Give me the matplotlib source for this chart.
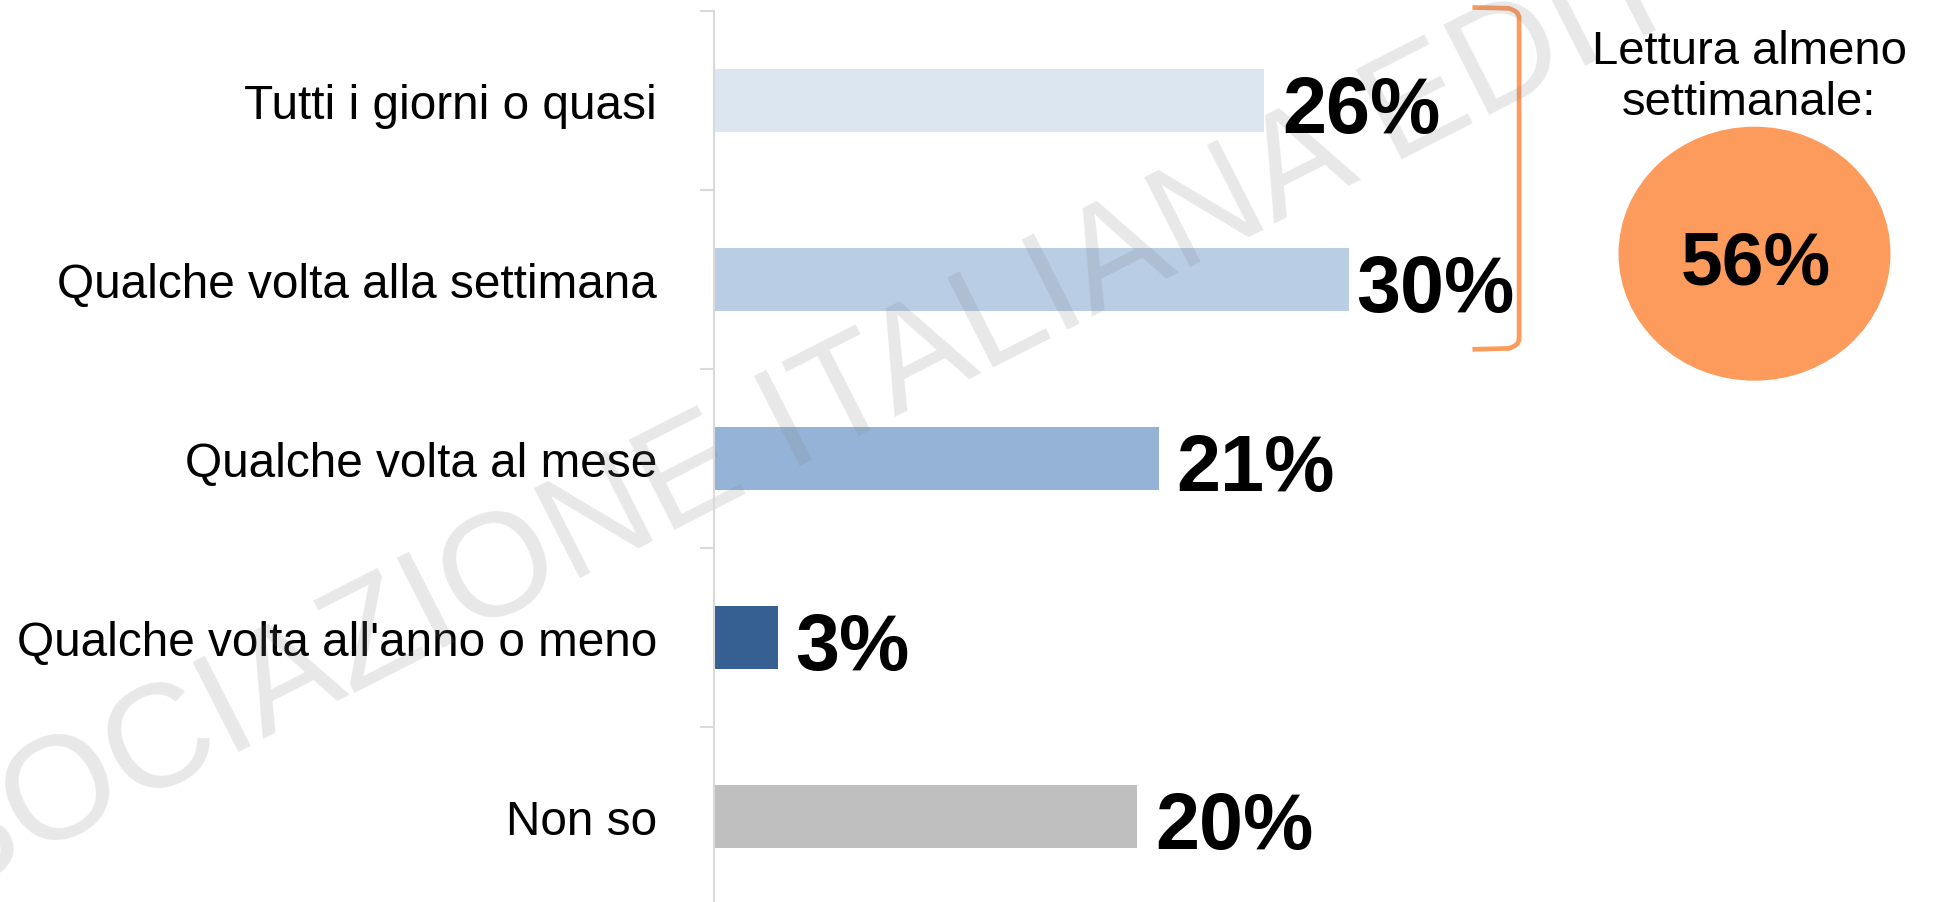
import numpy as np
import matplotlib.pyplot as plt
from matplotlib.patches import Ellipse, PathPatch
from matplotlib.path import Path

plt.rcParams['font.family'] = ['Liberation Sans', 'DejaVu Sans']

categories = ["Tutti i giorni o quasi", "Qualche volta alla settimana",
              "Qualche volta al mese", "Qualche volta all'anno o meno", "Non so"]
values = [26, 30, 21, 3, 20]
colors = ['#dce6f1', '#b9cde5', '#95b3d7', '#366092', '#bfbfbf']
summary_label = "Lettura almeno\nsettimanale:"
summary_value = 56
watermark = "ASSOCIAZIONE ITALIANA EDITORI"

W, H = 1934, 903
fig = plt.figure(figsize=(W / 100, H / 100), dpi=100)
ax = fig.add_axes([714 / W, -4 / H, 1 - 714 / W, 895 / H])

y = np.arange(len(categories))
bar_h = 0.357
ax.barh(y, values, height=bar_h, color=colors, zorder=1)

ax.set_xlim(0, (W - 714) / 21.17)
ax.set_ylim(len(categories) - 0.5, -0.5)

# bracket position (in value units), grouping the weekly readers (first two rows)
orange = '#fd9b5c'
bx, arm = 38.03, 2.2

# value labels, baseline sits on the bar's bottom edge;
# a label that would run into the bracket is pulled closer to its bar
renderer = fig.canvas.get_renderer()
px_per_unit = ax.transData.transform((1, 0))[0] - ax.transData.transform((0, 0))[0]
for yi, v in zip(y, values):
    t = ax.text(v + 0.85, yi + bar_h / 2, f"{v}%", va='baseline', ha='left',
                fontsize=57, fontweight='bold', color='black', zorder=4)
    w = t.get_window_extent(renderer=renderer).width / px_per_unit
    if yi <= 1 and v + 0.85 + w > bx - 0.2:
        t.set_x(max(v + 0.3, bx - 0.2 - w))

# axis styling
for s in ['top', 'right', 'bottom']:
    ax.spines[s].set_visible(False)
ax.spines['left'].set_color('#d9d9d9')
ax.spines['left'].set_linewidth(1.5)
ax.xaxis.set_visible(False)
ax.set_yticks(y)
ax.set_yticklabels(categories, fontsize=34.4)
ax.set_yticks(np.arange(len(categories) + 1) - 0.5, minor=True)
ax.tick_params(axis='y', which='major', length=0, pad=41)
ax.tick_params(axis='y', which='minor', length=10, width=1.5, color='#d9d9d9')

top, bot = 0 - 0.52, 1 + 0.39
verts = [(bx - arm, top), (bx - 0.5, top + 0.005), (bx, top + 0.02), (bx, top + 0.06),
         (bx, bot - 0.06), (bx, bot - 0.02), (bx - 0.5, bot - 0.005), (bx - arm, bot)]
codes = [Path.MOVETO, Path.LINETO, Path.CURVE3, Path.CURVE3,
         Path.LINETO, Path.CURVE3, Path.CURVE3, Path.LINETO]
ax.add_patch(PathPatch(Path(verts, codes), fill=False, edgecolor=orange,
                       lw=3.4, clip_on=False, zorder=1.5))

# summary circle
ax.add_patch(Ellipse((1754.5 / W, 1 - 254.7 / H), 272 / W, 254 / H,
                     transform=fig.transFigure, facecolor=orange, edgecolor='none',
                     clip_on=False, zorder=1.5))
fig.text(1756 / W, 1 - 285 / H, f"{summary_value}%", ha='center', va='baseline',
         fontsize=54, fontweight='bold', color='black')
# baseline alignment of a two-line text goes to the last line
fig.text(1749 / W, 1 - 115 / H, summary_label, ha='center', va='baseline',
         multialignment='center', fontsize=34, color='black', linespacing=1.22)

# watermark
ax.text(827 / W, 1 - 410 / H, watermark, transform=fig.transFigure,
        rotation=27, rotation_mode='anchor', ha='center', va='center',
        fontsize=106, color='#808080', alpha=0.18, zorder=2, clip_on=False)

fig.savefig('out.png', dpi=100, facecolor='white')
